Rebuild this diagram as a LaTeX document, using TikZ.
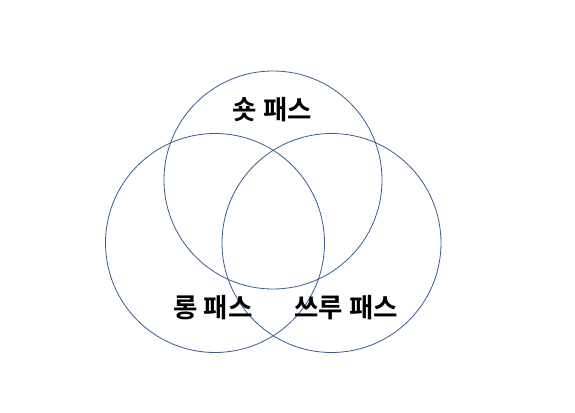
\documentclass[tikz,border=0pt]{standalone}
\usepackage{fontspec}
\newfontfamily\kr{Noto Sans CJK KR}[BoldFont={Noto Sans CJK KR Bold}]
\definecolor{ring}{HTML}{3B5C8C}
\begin{document}
\begin{tikzpicture}[x=1pt,y=-1pt,
  ring/.style={draw=ring,line width=0.8pt,circle,minimum size=#1,inner sep=0pt},
  lbl/.style={font=\kr\bfseries\fontsize{26.5}{30}\selectfont,text=black,inner sep=0pt}]
\useasboundingbox (0,0) rectangle (575,412);
\node[ring=218pt] (top) at (273,180) {};
\node[ring=219pt] (left) at (215,243) {};
\node[ring=219pt] (right) at (331.5,243) {};
\node[lbl] (shot) at (272.5,110) {숏 패스};
\node[lbl] (long) at (213,308) {롱 패스};
\node[lbl] (thru) at (346,308) {쓰루 패스};
\end{tikzpicture}
\end{document}
